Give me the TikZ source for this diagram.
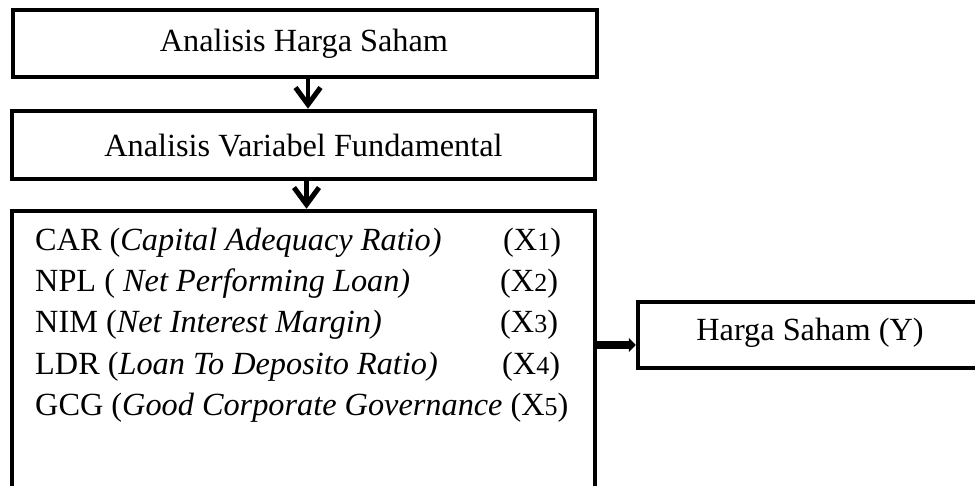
\documentclass[tikz,border=0pt]{standalone}
\usepackage{fontspec}
\setmainfont{Liberation Serif}
\usetikzlibrary{arrows.meta,calc}
\newcommand\dg[1]{{\fontsize{26}{30}\selectfont #1}}
\tikzset{
  boxst/.style={draw=black, line width=4.5pt, rectangle, inner sep=0pt, anchor=center},
  txt/.style={font=\fontsize{32.3}{38}\selectfont, inner sep=0pt},
  varline/.style={txt, anchor=base west},
  downarr/.style={line width=4.5pt, -{Straight Barb[length=17pt,width=25pt,line width=5pt]}},
  rightarr/.style={line width=8pt, -{Triangle[length=7pt,width=14pt]}},
}
\begin{document}
\begin{tikzpicture}[x=1pt,y=-1pt]
\useasboundingbox (0,0) rectangle (975,486);
\clip (0,0) rectangle (975,486);
\node[boxst, minimum width=584pt, minimum height=67pt] (box1) at (305,43.5) {};
\node[txt] (t1) at (304,44) {Analisis Harga Saham};
\node[boxst, minimum width=583pt, minimum height=68pt] (box2) at (303.5,145) {};
\node[txt] (t2) at (303.5,146) {Analisis Variabel Fundamental};
\node[boxst, minimum width=583pt, minimum height=300pt] (box3) at (303.5,361) {};
\node[boxst, minimum width=360pt, minimum height=66pt] (boxy) at (818,335) {};
\node[txt] (ty) at (810,333) {Harga Saham (Y)};

\node[varline] (l1) at (35,251) {CAR (\textit{Capital Adequacy Ratio)}};
\node[varline] (x1) at (503,251) {(X\dg{1})};
\node[varline] (l2) at (35,292) {NPL ( \textit{Net Performing Loan)}};
\node[varline] (x2) at (500,292) {(X\dg{2})};
\node[varline] (l3) at (35,333) {NIM (\textit{Net Interest Margin)}};
\node[varline] (x3) at (500,333) {(X\dg{3})};
\node[varline] (l4) at (35,374) {LDR (\textit{Loan To Deposito Ratio)}};
\node[varline] (x4) at (502,374) {(X\dg{4})};
\node[varline] (l5) at (35,415) {GCG (\textit{Good Corporate Governance} (X\dg{5})};

\draw[downarr] ([xshift=3pt]box1.south) -- ([xshift=3pt]box1.south |- box2.north);
\draw[downarr] ([xshift=3pt]box2.south) -- ([xshift=3pt]box2.south |- box3.north);
\draw[rightarr] (box3.east |- 0,345) -- (boxy.west |- 0,345);
\end{tikzpicture}
\end{document}
